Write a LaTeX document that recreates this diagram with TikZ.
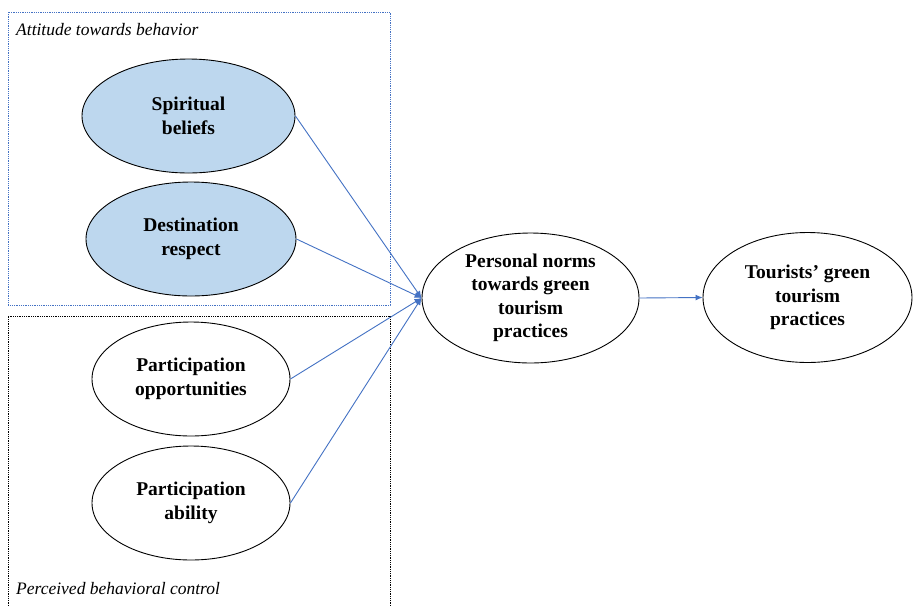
\documentclass[tikz,border=0pt]{standalone}
\usepackage{fontspec}
\setmainfont{Liberation Serif}
\usetikzlibrary{arrows.meta,shapes.geometric}
\definecolor{arrowblue}{HTML}{4472C4}
\definecolor{fillblue}{HTML}{BDD7EE}
\begin{document}
\begin{tikzpicture}[x=1pt,y=-1pt,
  oval/.style={draw=black,line width=0.9pt,ellipse,inner sep=0pt,align=center,
    font=\fontsize{19.5}{24}\selectfont\bfseries},
  blueoval/.style={oval,fill=fillblue},
  conn/.style={draw=arrowblue,line width=0.9pt,-{Latex[length=7pt,width=6pt]}},
  grouplabel/.style={font=\fontsize{17.5}{20}\selectfont\itshape,anchor=west,inner sep=0pt}]
\useasboundingbox (0,0) rectangle (913,606);
\fill[white] (0,0) rectangle (913,606);
% group boxes
\draw[arrowblue,densely dotted,line width=0.8pt] (8,12) rectangle (390,305);
\draw[black,densely dotted,line width=0.8pt] (8,606) -- (8,316) -- (390,316) -- (390,606);
\node[grouplabel] (lab1) at (16,30) {Attitude towards behavior};
\node[grouplabel] (lab2) at (16,589) {Perceived behavioral control};
% ellipses
\node[blueoval,minimum width=213pt,minimum height=114pt] (sb) at (188.5,116) {Spiritual\\beliefs};
\node[blueoval,minimum width=210pt,minimum height=114pt] (dr) at (191,239) {Destination\\respect};
\node[oval,minimum width=198pt,minimum height=114pt] (po) at (191,379) {Participation\\opportunities};
\node[oval,minimum width=198pt,minimum height=114pt] (pa) at (191,503) {Participation\\ability};
\node[oval,minimum width=217pt,minimum height=130pt,font=\fontsize{19.5}{23.5}\selectfont\bfseries] (pn) at (530.5,298) {Personal norms\\towards green\\tourism\\practices};
\node[oval,minimum width=209pt,minimum height=130pt,font=\fontsize{19.5}{23.5}\selectfont\bfseries] (tg) at (807.5,297.5) {Tourists’ green\\tourism\\practices};
% connectors
\coordinate (in) at (pn.west);
\draw[conn] (sb.east) -- (in);
\draw[conn] (dr.east) -- (in);
\draw[conn] (po.east) -- (in);
\draw[conn] (pa.east) -- (in);
\draw[conn] (pn.east) -- (tg.west);
\end{tikzpicture}
\end{document}
